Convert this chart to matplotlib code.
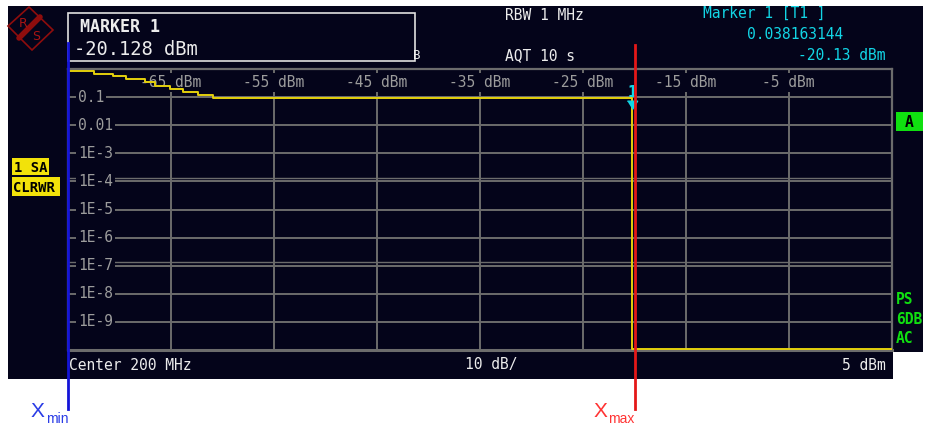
import matplotlib
matplotlib.use('Agg')
import matplotlib.pyplot as plt
import matplotlib.transforms as mtransforms
from matplotlib.patches import Rectangle, Polygon
from matplotlib.ticker import NullLocator

BG = '#04041a'
GRID = '#6c6c6c'
LABEL = '#9c9c9c'
TRACE = '#e4d00c'
CYAN = '#12d6e6'
WHITE = '#ececec'
MONO = 'DejaVu Sans Mono'

# graticule
x_ticks = [-65, -55, -45, -35, -25, -15, -5]
y_ticks = [1e-1, 1e-2, 1e-3, 1e-4, 1e-5, 1e-6, 1e-7, 1e-8, 1e-9]
y_labels = ['0.1', '0.01', '1E-3', '1E-4', '1E-5', '1E-6', '1E-7', '1E-8', '1E-9']
ghost_lines = [1.3e-4, 1.3e-7]

# CCDF trace (dBm, probability)
trace_dbm = [-75, -72.5, -70.6, -69.4, -67.5, -66.5, -65.1, -63.8, -62.4, -60.9, -20.2, 5]
trace_prob = [0.85, 0.66, 0.56, 0.45, 0.35, 0.25, 0.20, 0.155, 0.124, 0.096, 1.1e-10, 1.1e-10]

marker_dbm = -20.2
marker_prob = 0.038163144
x_min_dbm = -75.0
x_max_dbm = -19.95

fig = plt.figure(figsize=(9.25, 4.25), dpi=100)
fig.patch.set_facecolor('white')

# background layer in pixel coordinates
bg = fig.add_axes([0, 0, 1, 1], zorder=0)
bg.set_xlim(0, 925)
bg.set_ylim(425, 0)
bg.axis('off')
bg.add_patch(Rectangle((8, 6), 915, 346, color=BG, lw=0))
bg.add_patch(Rectangle((8, 352), 885, 27, color=BG, lw=0))

# R&S logo
logo = '#8e0d0d'
bg.add_patch(Polygon([(29, 7), (53, 30), (32, 50), (8, 26)], closed=True,
                     fill=False, edgecolor=logo, lw=1.2))
bg.plot([19, 40], [38, 17], color=logo, lw=4, solid_capstyle='round')
bg.text(23, 23, 'R', color='#a81414', fontsize=9, ha='center', va='center')
bg.text(36, 36, 'S', color='#a81414', fontsize=9, ha='center', va='center')

# marker info box
bg.add_patch(Rectangle((68, 13), 346.5, 47.5, fill=False, edgecolor='#e0e0e0', lw=1.2))
bg.text(413, 59, 'B', color=WHITE, fontsize=9, family=MONO, va='baseline')
bg.text(80, 31.5, 'MARKER 1', color=WHITE, fontsize=12, fontweight='bold', family=MONO, va='baseline')
bg.text(74, 55, '-20.128 dBm', color=WHITE, fontsize=13.5, family=MONO, va='baseline')

bg.text(505, 19.5, 'RBW 1 MHz', color=WHITE, fontsize=10.5, family=MONO, va='baseline')
bg.text(505, 60.5, 'AQT 10 s', color=WHITE, fontsize=10.5, family=MONO, va='baseline')
bg.text(703, 18, 'Marker 1 [T1 ]', color=CYAN, fontsize=10.5, family=MONO, va='baseline')
bg.text(843, 38.5, '0.038163144', color=CYAN, fontsize=10.5, family=MONO, va='baseline', ha='right')
bg.text(886, 60, '-20.13 dBm', color=CYAN, fontsize=10.5, family=MONO, va='baseline', ha='right')

bg.text(69, 370, 'Center 200 MHz', color=WHITE, fontsize=10.5, family=MONO, va='baseline')
bg.text(465, 369.5, '10 dB/', color=WHITE, fontsize=10.5, family=MONO, va='baseline')
bg.text(886, 369.5, '5 dBm', color=WHITE, fontsize=10.5, family=MONO, va='baseline', ha='right')

# side labels
bg.add_patch(Rectangle((12, 158), 37, 17, color='#f2e20a', lw=0))
bg.text(14, 171.5, '1 SA', color='black', fontsize=10, fontweight='bold', family=MONO, va='baseline')
bg.add_patch(Rectangle((12, 177), 48, 19, color='#f2e20a', lw=0))
bg.text(13.5, 191.5, 'CLRWR', color='black', fontsize=10, fontweight='bold', family=MONO, va='baseline')
bg.add_patch(Rectangle((896, 112), 27, 19, color='#10e010', lw=0))
bg.text(909.5, 126.5, 'A', color='black', fontsize=10.5, fontweight='bold', family=MONO, va='baseline', ha='center')
for txt, yb in [('PS', 303.5), ('6DB', 323.5), ('AC', 343)]:
    bg.text(896, yb, txt, color='#10e010', fontsize=10.5, fontweight='bold', family=MONO, va='baseline')

# X_min / X_max labels
bg.text(31, 417, 'X', color='#2a3ce6', fontsize=15, family='Liberation Sans', va='baseline')
bg.text(46, 423, 'min', color='#2a3ce6', fontsize=10, family='Liberation Sans', va='baseline')
bg.text(594, 417, 'X', color='#ff3434', fontsize=15, family='Liberation Sans', va='baseline')
bg.text(608, 423, 'max', color='#ff3434', fontsize=10, family='Liberation Sans', va='baseline')

# main graticule
ax = fig.add_axes([68 / 925, 1 - 349.75 / 425, 823.5 / 925, 280.5 / 425], zorder=1)
ax.set_facecolor(BG)
ax.set_yscale('log')
ax.set_xlim(-75, 5)
ax.set_ylim(1e-10, 1)
ax.set_xticks([])
ax.set_yticks([])
ax.yaxis.set_minor_locator(NullLocator())
for s in ax.spines.values():
    s.set_color(GRID)
    s.set_linewidth(1.6)
ax.spines['bottom'].set_linewidth(2.2)

for v in x_ticks:
    ax.axvline(v, color=GRID, lw=1.4, zorder=1)
for p in y_ticks:
    ax.axhline(p, color=GRID, lw=1.4, zorder=1)
for p in ghost_lines:
    ax.axhline(p, color=GRID, lw=1.0, zorder=1)

ytrans = mtransforms.offset_copy(
    mtransforms.blended_transform_factory(ax.transAxes, ax.transData),
    fig=fig, x=0, y=-4.6, units='dots')
for p, lab in zip(y_ticks, y_labels):
    ax.text(10 / 823.5, p, lab, transform=ytrans, color=LABEL, fontsize=10.5, family=MONO,
            va='baseline', ha='left', zorder=2,
            bbox=dict(facecolor=BG, edgecolor='none', pad=1.5))

xtrans = mtransforms.blended_transform_factory(ax.transData, ax.transAxes)
for v in x_ticks:
    ax.text(v, 0.937, '%d dBm' % v, transform=xtrans, color=LABEL, fontsize=10.5, family=MONO,
            va='baseline', ha='center', zorder=2,
            bbox=dict(facecolor=BG, edgecolor='none', pad=1.5))

ax.plot(trace_dbm, trace_prob, drawstyle='steps-post', color=TRACE, lw=1.4, zorder=4)

# marker 1
tri = [(-0.8, 1.3), (0.8, 1.3), (0, 0)]
ax.plot([marker_dbm], [marker_prob], marker=tri, color=CYAN, markersize=12, ls='none', zorder=5)
ax.annotate('1', (marker_dbm, marker_prob), xytext=(0, 12), textcoords='offset pixels',
            color=CYAN, fontsize=11, fontweight='bold', family=MONO, ha='center',
            va='baseline', zorder=5)

# X_min / X_max lines
ltrans = mtransforms.blended_transform_factory(ax.transData, fig.transFigure)
ax.plot([x_min_dbm, x_min_dbm], [1 - 409 / 425, 1 - 43 / 425], color='#1414d8', lw=2,
        transform=ltrans, clip_on=False, zorder=6)
ax.plot([x_max_dbm, x_max_dbm], [1 - 409 / 425, 1 - 45 / 425], color='#e41818', lw=2,
        transform=ltrans, clip_on=False, zorder=6)

fig.savefig('out.png', dpi=100, facecolor=fig.get_facecolor())
